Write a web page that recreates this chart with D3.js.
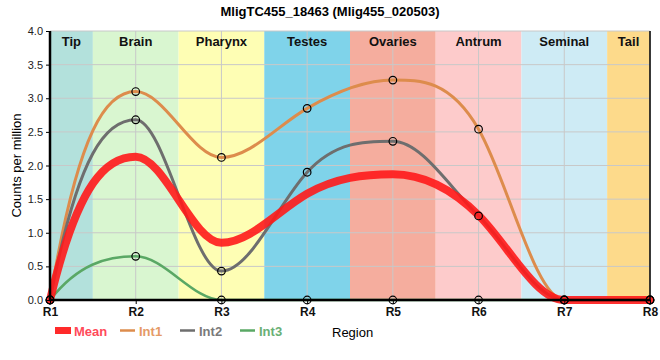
<!DOCTYPE html>
<html><head><meta charset="utf-8">
<script src="https://cdn.jsdelivr.net/npm/d3@7"></script>
<style>body{margin:0;background:#fff}svg{display:block;font-family:"Liberation Sans",Arial,sans-serif}</style>
</head><body><svg id="c" width="660" height="360"></svg>
<script>
const title = "MligTC455_18463 (Mlig455_020503)";
const regions = ["R1","R2","R3","R4","R5","R6","R7","R8"];
const bandNames = ["Tip","Brain","Pharynx","Testes","Ovaries","Antrum","Seminal","Tail"];
const bandColors = ["#b3e1dc","#d9f6d0","#fefeb4","#7fd3ea","#f5ad9e","#fdcbcb","#ceebf5","#fdda8b"];
const yTicks = [0,0.5,1,1.5,2,2.5,3,3.5,4];
const meanVals = [0, 2.13, 0.85, 1.58, 1.87, 1.26, 0, 0];
const int1Vals = [0, 3.10, 2.12, 2.85, 3.27, 2.54, 0, 0];
const int2Vals = [0, 2.68, 0.43, 1.90, 2.36, 1.25, 0, 0];
const int3Vals = [0, 0.65, 0, 0, 0, 0, 0, 0];

const svg = d3.select("#c");
const L=50, R=650, T=31, B=300;
const x = d3.scalePoint().domain(regions).range([L,R]);
const xi = d3.scaleLinear().domain([0,regions.length-1]).range([L,R]);
const y = d3.scaleLinear().domain([0,4]).range([B,T]);

// smooth cubic Hermite curve: flat at extrema, steep transitions
function smoothCurve(context){
  let xs=[], ys=[];
  return {
    areaStart(){}, areaEnd(){},
    lineStart(){ xs=[]; ys=[]; },
    point(px,py){ xs.push(+px); ys.push(+py); },
    lineEnd(){
      const n=xs.length; if(!n) return;
      const s=[]; for(let i=0;i<n-1;i++) s.push((ys[i+1]-ys[i])/(xs[i+1]-xs[i]));
      const m=[];
      for(let i=0;i<n;i++){
        if(i===0) m.push(2.5*s[0]);
        else if(i===n-1) m.push(2.5*s[n-2]);
        else {
          const a=s[i-1], b=s[i];
          if(a*b<=0 || Math.abs(a)<1e-9 || Math.abs(b)<1e-9) m.push(0);
          else {
            const mag=Math.min(Math.max(Math.abs(a),Math.abs(b)), 3*Math.min(Math.abs(a),Math.abs(b)));
            m.push(Math.sign(a)*mag);
          }
        }
      }
      context.moveTo(xs[0],ys[0]);
      for(let i=0;i<n-1;i++){
        const h=(xs[i+1]-xs[i])/3;
        context.bezierCurveTo(xs[i]+h, ys[i]+m[i]*h, xs[i+1]-h, ys[i+1]-m[i+1]*h, xs[i+1], ys[i+1]);
      }
    }
  };
}

// bands
svg.append("g").selectAll("rect").data(bandNames).join("rect")
  .attr("x",(d,i)=>Math.max(L, xi(i-0.5)))
  .attr("width",(d,i)=>Math.min(R, xi(i+0.5))-Math.max(L, xi(i-0.5)))
  .attr("y",T).attr("height",B-T)
  .attr("fill",(d,i)=>bandColors[i]);

// grid
svg.append("g").selectAll("line").data(regions).join("line")
  .attr("x1",d=>x(d)).attr("x2",d=>x(d)).attr("y1",T).attr("y2",B)
  .attr("stroke","#c8c8c8").attr("stroke-width",1);
svg.append("g").selectAll("line").data(yTicks).join("line")
  .attr("x1",L).attr("x2",R).attr("y1",d=>y(d)).attr("y2",d=>y(d))
  .attr("stroke","#c8c8c8").attr("stroke-width",1);

// band labels
svg.append("g").selectAll("text").data(bandNames).join("text")
  .attr("x",(d,i)=>(Math.max(L, xi(i-0.5))+Math.min(R, xi(i+0.5)))/2)
  .attr("y",46).attr("text-anchor","middle")
  .attr("font-size",13).attr("font-weight","bold").attr("fill","#111")
  .text(d=>d);

// lines
const line = d3.line().x((d,i)=>x(regions[i])).y(d=>y(d)).curve(smoothCurve);
const series = [
  {name:"Int1", vals:int1Vals, color:"#dd8c4c", w:3},
  {name:"Int2", vals:int2Vals, color:"#6e6e6e", w:3},
  {name:"Int3", vals:int3Vals, color:"#5aa865", w:2.5}
];
series.forEach(s=>{
  svg.append("path").attr("d",line(s.vals)).attr("fill","none")
    .attr("stroke",s.color).attr("stroke-width",s.w).attr("stroke-linejoin","round");
});
svg.append("path").attr("d",line(meanVals)).attr("fill","none")
  .attr("stroke","#ff1a1a").attr("stroke-opacity",0.9).attr("stroke-width",8).attr("stroke-linecap","round");

// axes
const yAxis = d3.axisLeft(y).tickValues(yTicks).tickFormat(d3.format(".1f")).tickSize(4);
const gy = svg.append("g").attr("transform",`translate(${L},0)`).call(yAxis);
gy.select(".domain").remove();
gy.selectAll("text").attr("font-size",11).attr("fill","#222").attr("font-family","Liberation Sans, Arial, sans-serif");
const xAxis = d3.axisBottom(x).tickSize(4).tickPadding(3);
const gx = svg.append("g").attr("transform",`translate(0,${B})`).call(xAxis);
gx.select(".domain").remove();
gx.selectAll("text").attr("font-size",12).attr("font-weight","bold").attr("fill","#111").attr("font-family","Liberation Sans, Arial, sans-serif");

// spines
svg.append("line").attr("x1",L).attr("x2",L).attr("y1",T).attr("y2",B).attr("stroke","#000").attr("stroke-width",2.5);
svg.append("line").attr("x1",R).attr("x2",R).attr("y1",T).attr("y2",B).attr("stroke","#000").attr("stroke-width",1.5);
svg.append("line").attr("x1",L-1).attr("x2",R).attr("y1",B).attr("y2",B).attr("stroke","#000").attr("stroke-width",2.5);

// points
series.forEach(s=>{
  svg.append("g").selectAll("circle").data(s.vals).join("circle")
    .attr("cx",(d,i)=>x(regions[i])).attr("cy",d=>y(d)).attr("r",3.8)
    .attr("fill","none").attr("stroke","#000").attr("stroke-width",1.2);
});

// title & labels
svg.append("text").attr("x",330).attr("y",16).attr("text-anchor","middle")
  .attr("font-size",13).attr("font-weight","bold").attr("fill","#000").text(title);
svg.append("text").attr("transform",`translate(21,${(T+B)/2}) rotate(-90)`)
  .attr("text-anchor","middle").attr("font-size",13).attr("fill","#000").text("Counts per million");
svg.append("text").attr("x",332).attr("y",337).attr("font-size",13).attr("fill","#000").text("Region");

// legend
const leg = [
  {name:"Mean", color:"#ff2a2a", text:"#ff4a5a", rect:true, x:55},
  {name:"Int1", color:"#dd8c4c", text:"#e59a66", x:120},
  {name:"Int2", color:"#6e6e6e", text:"#7a7a7a", x:180},
  {name:"Int3", color:"#5aa865", text:"#6ab075", x:240}
];
leg.forEach(l=>{
  if(l.rect) svg.append("rect").attr("x",l.x).attr("y",327).attr("width",16).attr("height",7).attr("fill",l.color);
  else svg.append("line").attr("x1",l.x).attr("x2",l.x+15).attr("y1",330.5).attr("y2",330.5).attr("stroke",l.color).attr("stroke-width",2.5);
  svg.append("text").attr("x",l.x+19).attr("y",335.5).attr("font-size",13).attr("font-weight","bold").attr("fill",l.text).text(l.name);
});
</script></body></html>
